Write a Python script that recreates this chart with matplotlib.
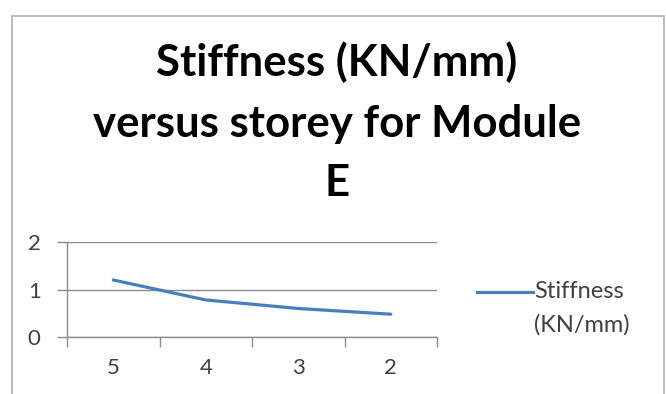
import matplotlib
matplotlib.use("Agg")
import matplotlib.pyplot as plt
from matplotlib.lines import Line2D
from matplotlib.patches import Rectangle
from matplotlib.ticker import FixedLocator, NullFormatter, FixedFormatter

# Data
storeys = ["5", "4", "3", "2"]
stiffness = [1.2, 0.78, 0.6, 0.48]
yticks = [0, 1, 2]
title_lines = ["Stiffness (KN/mm)", "versus storey for Module", "E"]
legend_label = ["Stiffness", "(KN/mm)"]

W, H = 666, 394
fig = plt.figure(figsize=(W / 100, H / 100), dpi=100)
fig.patch.set_facecolor("white")

FONT = "Lato"
GRID = "#8c8c8c"
LINEC = "#4a7ebb"
TXT = "#404040"

# chart frame
fig.add_artist(Rectangle((12 / W, -0.05), (664 - 12) / W, 1 - 16 / H + 0.05,
                         transform=fig.transFigure, fill=False,
                         edgecolor="#b0b0b0", linewidth=1.2))

# title
for txt, base in zip(title_lines, [76, 137, 196]):
    fig.text(337 / W, 1 - base / H, txt, ha="center", va="baseline",
             fontsize=31.5, fontweight="bold", family=FONT, color="black")

# axes
left, right, bottom, top = 67, 437, 337, 242
ax = fig.add_axes([left / W, 1 - bottom / H, (right - left) / W, (bottom - top) / H])
x = list(range(len(storeys)))
ax.plot(x, stiffness, color=LINEC, linewidth=2.3, solid_capstyle="round")
ax.set_xlim(-0.5, len(storeys) - 0.5)
ax.set_ylim(0, 2)

ax.set_yticks(yticks)
ax.set_yticklabels([str(v) for v in yticks], family=FONT, fontsize=16, color=TXT)
ax.yaxis.grid(True, color=GRID, linewidth=1)
ax.tick_params(axis="y", length=7, width=1, color=GRID, pad=12)

ax.xaxis.set_major_locator(FixedLocator([i - 0.5 for i in range(len(storeys) + 1)]))
ax.xaxis.set_major_formatter(NullFormatter())
ax.xaxis.set_minor_locator(FixedLocator(x))
ax.xaxis.set_minor_formatter(FixedFormatter(storeys))
ax.tick_params(axis="x", which="major", length=7, width=1, color=GRID, direction="out")
ax.tick_params(axis="x", which="minor", length=0, pad=15, labelsize=16, labelcolor=TXT)
for lab in ax.xaxis.get_minorticklabels():
    lab.set_family(FONT)

for s in ["top", "right"]:
    ax.spines[s].set_visible(False)
for s in ["left", "bottom"]:
    ax.spines[s].set_color(GRID)
    ax.spines[s].set_linewidth(1)
ax.set_axisbelow(True)
ax.set_facecolor("none")

# legend
fig.add_artist(Line2D([477 / W, 533 / W], [1 - 292 / H, 1 - 292 / H],
                      transform=fig.transFigure, color=LINEC, linewidth=2.3))
fig.text(534 / W, 1 - 292 / H, legend_label[0], ha="left", va="center",
         fontsize=17, family=FONT, color=TXT)
fig.text(534 / W, 1 - 325 / H, legend_label[1], ha="left", va="center",
         fontsize=17, family=FONT, color=TXT)

fig.savefig("out.png", dpi=100)
